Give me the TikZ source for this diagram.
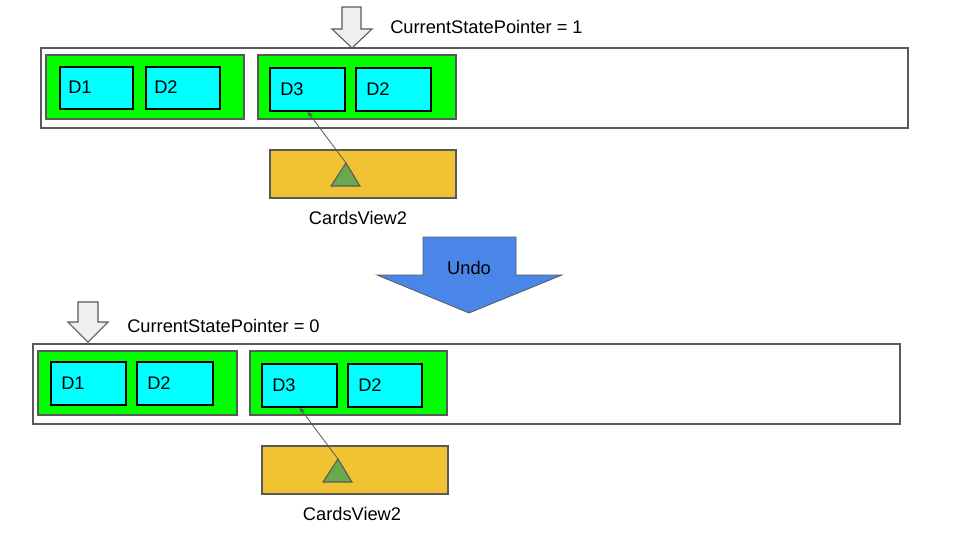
\documentclass[tikz,border=0pt]{standalone}
\usepackage{fontspec}
\setmainfont{Liberation Sans}
\usetikzlibrary{fit,arrows.meta}
\definecolor{bord}{HTML}{595959}
\definecolor{grn}{HTML}{00FF00}
\definecolor{cyn}{HTML}{00FFFF}
\definecolor{ylw}{HTML}{F1C232}
\definecolor{tri}{HTML}{6AA84F}
\definecolor{blu}{HTML}{4A86E8}
\definecolor{lgray}{HTML}{EFEFEF}
\tikzset{
  every node/.style={font=\fontsize{13.7}{16}\selectfont},
  outerbox/.style={draw=bord, line width=0.8pt, fill=white, inner sep=0pt},
  groupbox/.style={draw=bord, line width=0.8pt, fill=grn, inner sep=0pt},
  cardbox/.style={draw=black, line width=0.8pt, fill=cyn, inner sep=0pt},
  viewbox/.style={draw=bord, line width=0.8pt, fill=ylw, inner sep=0pt},
  trishape/.style={draw=bord, line width=0.8pt, fill=tri},
  hollow/.style={draw=bord, line width=0.8pt, fill=lgray},
  undoarrow/.style={draw=bord, line width=0.6pt, fill=blu},
  ptr/.style={draw=bord, line width=0.6pt, -{Stealth[length=4.5pt,width=3.5pt]}},
  lbl/.style={inner sep=0pt, anchor=west},
  txt/.style={inner sep=0pt},
}
\begin{document}
\begin{tikzpicture}[x=0.75pt,y=-0.75pt]
\useasboundingbox (0,0) rectangle (960,540);
% ---------- top state ----------
\draw[hollow] (342,7) -- (361,7) -- (361,29) -- (372,29) -- (352,48) -- (332,29) -- (342,29) -- cycle;
\node[txt, anchor=west] (csp1) at (390,27) {CurrentStatePointer = 1};
\node[outerbox, fit={(41,48)(908,128)}] (list1) {};
\node[groupbox, fit={(46,55)(244,119)}] (g1a) {};
\node[groupbox, fit={(258,55)(456,119)}] (g1b) {};
\node[cardbox, fit={(60,67)(133,109)}] (d1a) {};
\node[cardbox, fit={(146,67)(220,109)}] (d2a) {};
\node[cardbox, fit={(270,68)(345,111)}] (d3a) {};
\node[cardbox, fit={(356,68)(431,111)}] (d2b) {};
\node[lbl] (t1) at (68,87) {D1};
\node[lbl] (t2) at (154,87) {D2};
\node[lbl] (t3) at (280,89) {D3};
\node[lbl] (t4) at (366,89) {D2};
\node[viewbox, fit={(270,150)(456,198)}] (cv1) {};
\draw[trishape] (331,186) -- (360,186) -- (346,163) -- cycle;
\coordinate (apex1) at (346,163);
\draw[ptr] (apex1) -- (d3a.south);
\node[txt] (cvl1) at (358,218) {CardsView2};
% ---------- undo ----------
\draw[undoarrow] (423,237) -- (516,237) -- (516,275) -- (562,275) -- (469,313) -- (377,275) -- (423,275) -- cycle;
\node[txt] (undo) at (469,268) {Undo};
% ---------- bottom state ----------
\draw[hollow] (78,302) -- (98,302) -- (98,322) -- (108,322) -- (88,342) -- (68,322) -- (78,322) -- cycle;
\node[txt, anchor=west] (csp0) at (127,326) {CurrentStatePointer = 0};
\node[outerbox, fit={(33,344)(900,424)}] (list2) {};
\node[groupbox, fit={(38,351)(237,415)}] (g2a) {};
\node[groupbox, fit={(250,351)(447,415)}] (g2b) {};
\node[cardbox, fit={(51,362)(126,405)}] (d1c) {};
\node[cardbox, fit={(137,362)(213,405)}] (d2c) {};
\node[cardbox, fit={(262,364)(337,407)}] (d3c) {};
\node[cardbox, fit={(348,364)(422,407)}] (d2d) {};
\node[lbl] (t5) at (61,383) {D1};
\node[lbl] (t6) at (147,383) {D2};
\node[lbl] (t7) at (272,385) {D3};
\node[lbl] (t8) at (358,385) {D2};
\node[viewbox, fit={(262,446)(448,494)}] (cv2) {};
\draw[trishape] (323,482) -- (352,482) -- (338,459) -- cycle;
\coordinate (apex2) at (338,459);
\draw[ptr] (apex2) -- (d3c.south);
\node[txt] (cvl2) at (352,514) {CardsView2};
\end{tikzpicture}
\end{document}
